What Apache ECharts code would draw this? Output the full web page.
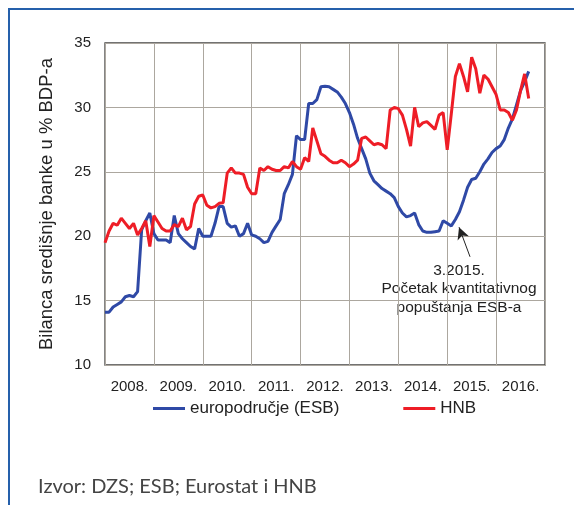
<!DOCTYPE html>
<html>
<head>
<meta charset="utf-8">
<script src="https://cdn.jsdelivr.net/npm/echarts@6/dist/echarts.min.js"></script>
<style>
  html, body { margin: 0; padding: 0; background: #fff; }
  #frame { position: absolute; left: 8px; top: 8px; width: 600px; height: 600px;
    border-left: 2px solid #2560ab; border-top: 2px solid #2560ab; }
  #chart { position: absolute; left: 0; top: 0; width: 574px; height: 505px; }
</style>
</head>
<body>
<div id="frame"></div>
<div id="chart"></div>
<script>
// godine na x osi (jedna godina = 12 mjeseci)
var years = ['2008.', '2009.', '2010.', '2011.', '2012.', '2013.', '2014.', '2015.', '2016.'];

// mjesečne vrijednosti od 1.2008. do 9.2016., % BDP-a
var esb = [
  14.1, 14.1, 14.5, 14.7, 14.9, 15.3, 15.4, 15.3, 15.7, 20.5, 21.2, 21.8,
  20.2, 19.7, 19.7, 19.7, 19.5, 21.6, 20.2, 19.8, 19.5, 19.2, 19.0, 20.6,
  20.0, 20.0, 20.0, 21.0, 22.3, 22.3, 21.0, 20.7, 20.8, 20.0, 20.2, 21.0,
  20.1, 20.0, 19.8, 19.5, 19.6, 20.3, 20.8, 21.3, 23.3, 24.0, 24.8, 27.8,
  27.5, 27.5, 30.3, 30.3, 30.6, 31.6, 31.65, 31.6, 31.4, 31.2, 30.8, 30.3,
  29.6, 28.7, 27.6, 26.8, 26.0, 24.9, 24.3, 24.0, 23.7, 23.5, 23.3, 23.0,
  22.3, 21.8, 21.5, 21.6, 21.8, 20.9, 20.4, 20.3, 20.3, 20.35, 20.4, 21.2,
  21.0, 20.8, 21.3, 21.9, 22.8, 23.8, 24.4, 24.5, 25.0, 25.6, 26.0, 26.5,
  26.8, 27.0, 27.5, 28.4, 29.1, 30.2, 31.3, 32.0, 32.8
];
var hnb = [
  19.5, 20.4, 21.0, 20.85, 21.4, 21.0, 20.6, 21.0, 20.1, 20.6, 21.2, 19.2,
  21.6, 21.1, 20.6, 20.4, 20.4, 20.9, 20.75, 21.4, 20.5, 20.75, 22.5, 23.1,
  23.2, 22.4, 22.2, 22.3, 22.55, 22.6, 24.9, 25.3, 24.9, 24.9, 24.8, 23.8,
  23.3, 23.3, 25.3, 25.1, 25.4, 25.2, 25.1, 25.1, 25.4, 25.3, 25.8, 25.4,
  25.2, 26.1, 25.8, 28.4, 27.4, 26.4, 26.2, 25.9, 25.7, 25.7, 25.9, 25.7,
  25.4, 25.6, 25.9, 27.6, 27.7, 27.4, 27.1, 27.2, 27.1, 26.8, 29.8, 30.0,
  29.9, 29.4, 28.3, 27.0, 30.0, 28.5, 28.8, 28.9, 28.6, 28.3, 29.4, 29.6,
  26.7, 29.5, 32.4, 33.4, 32.4, 31.2, 33.9, 33.0, 31.1, 32.5, 32.2, 31.6,
  31.0, 29.8, 29.8, 29.6, 29.0, 29.8, 31.3, 32.6, 30.7
];

// strelica: od teksta do 3.2015. (mjesec, vrijednost)
var arrowFrom = [89.6, 18.4];
var arrowTo = [86.9, 20.7];

var toPairs = function(arr) {
  return arr.map(function(v, i) { return [i, v]; });
};

var labelFont = "'Liberation Sans', Arial, sans-serif";
var chart = echarts.init(document.getElementById('chart'));

chart.setOption({
  animation: false,
  grid: {
    left: 105, top: 43, right: 29, bottom: 140,
    show: true, borderColor: '#444', borderWidth: 1.3
  },
  legend: {
    left: 153, top: 400, padding: 0,
    icon: 'rect', itemWidth: 32, itemHeight: 3, itemGap: 64,
    textStyle: { fontFamily: labelFont, fontSize: 17, color: '#222' },
    data: ['europodručje (ESB)', 'HNB']
  },
  xAxis: {
    type: 'value', min: 0, max: 108, interval: 12,
    axisLine: { show: false },
    axisTick: { show: false },
    splitLine: { show: true, lineStyle: { color: '#aca79f', width: 1 } },
    axisLabel: {
      customValues: years.map(function(y, i) { return i * 12 + 6; }),
      formatter: function(v) { return years[Math.round((v - 6) / 12)]; },
      fontFamily: labelFont, fontSize: 15, color: '#222', margin: 14
    }
  },
  yAxis: {
    type: 'value', min: 10, max: 35, interval: 5,
    name: 'Bilanca središnje banke u % BDP-a',
    nameLocation: 'middle', nameGap: 49,
    nameTextStyle: { fontFamily: labelFont, fontSize: 18.5, color: '#222' },
    axisLine: { show: false },
    axisTick: { show: false },
    splitLine: { lineStyle: { color: '#aca79f', width: 1 } },
    axisLabel: { fontFamily: labelFont, fontSize: 15, color: '#222', margin: 14 }
  },
  series: [
    {
      name: 'europodručje (ESB)', type: 'line', symbol: 'none',
      data: toPairs(esb),
      lineStyle: { color: '#2f49a6', width: 3 },
      itemStyle: { color: '#2f49a6' },
      markLine: {
        silent: true,
        symbol: ['none', 'arrow'], symbolSize: [9, 12],
        lineStyle: { color: '#222', width: 1, type: 'solid' },
        label: { show: false },
        data: [[{ coord: arrowFrom }, { coord: arrowTo }]]
      }
    },
    {
      name: 'HNB', type: 'line', symbol: 'none',
      data: toPairs(hnb),
      lineStyle: { color: '#ee1d26', width: 3 },
      itemStyle: { color: '#ee1d26' }
    }
  ],
  graphic: [
    {
      type: 'text', x: 459, y: 261,
      style: {
        text: '3.2015.\nPočetak kvantitativnog\npopuštanja ESB-a',
        align: 'center',
        font: '15.5px ' + labelFont, fill: '#222', lineHeight: 18.5
      }
    },
    {
      type: 'text', x: 38, y: 477,
      style: {
        text: 'Izvor: DZS; ESB; Eurostat i HNB',
        font: '20px Lato, sans-serif', fill: '#444'
      }
    }
  ]
});
</script>
</body>
</html>
